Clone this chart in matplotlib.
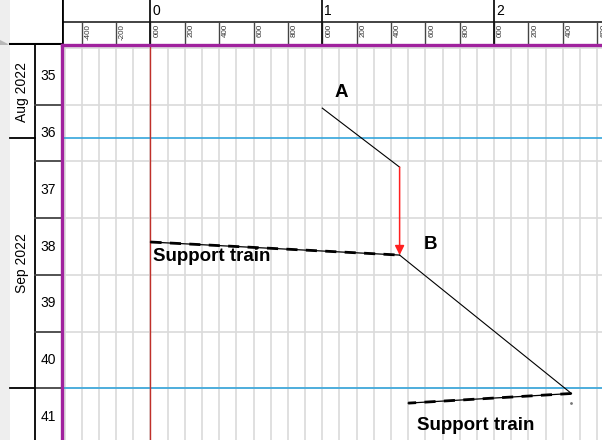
import matplotlib
matplotlib.use("Agg")
import matplotlib.pyplot as plt
from matplotlib.transforms import offset_copy
import numpy as np

plt.rcParams['font.family'] = ['Liberation Sans', 'DejaVu Sans']

# %%
# Dados do grafico (distancia x semana)
week_numbers = [35, 36, 37, 38, 39, 40, 41]
month_labels = ['Aug 2022', 'Sep 2022']
month_starts = [36.59, 41.0]           # inicio de Sep e Oct, em semanas

ruler_major = [0, 1000, 2000]
ruler_major_labels = ['0', '1', '2']
ruler_minor = list(range(-400, 2601, 200))

activity_a_x = [1000, 1450]
activity_a_y = [36.06, 37.10]
activity_b_x = [1450, 2450]
activity_b_y = [38.65, 41.09]
support_1_x = [0, 1450]
support_1_y = [38.42, 38.65]
support_2_x = [2450, 1500]
support_2_y = [41.09, 41.26]
link_x = 1450
link_y = [37.10, 38.65]

labels_text = ['A', 'B', 'Support train', 'Support train']
labels_x = [1074, 1588, 13, 1549]
labels_y = [35.87, 38.55, 38.76, 41.735]

# %%
W, H = 602, 440
left_px, top_px = 62, 45
x_min, x_max = -515, 2628
y_top, y_bottom = 34.947, 41.91

fig = plt.figure(figsize=(W / 100, H / 100), dpi=100)
fig.patch.set_facecolor('white')

# regua superior
ax_top = fig.add_axes([left_px / W, 1 - top_px / H, 1 - left_px / W, top_px / H])
ax_top.set_xlim(x_min, x_max)
ax_top.set_ylim(top_px, 0)
ax_top.axis('off')
ax_top.axhline(22, color='#222222', lw=1.2)
ax_top.axvline(x_min, color='black', lw=2)
for v in ruler_minor:
    ax_top.plot([v, v], [22, top_px], color='#444444', lw=1.0)
    lab = f"{v % 1000:03d}" if v >= 0 else str(v)
    tr = offset_copy(ax_top.transData, fig=fig, x=6.5, y=0, units='dots')
    ax_top.text(v, 24, lab, rotation=90, fontsize=5.8, ha='center', va='top',
                color='#333333', transform=tr, clip_on=True)
for v, lab in zip(ruler_major, ruler_major_labels):
    ax_top.plot([v, v], [0, top_px], color='#111111', lw=1.3)
    tr = offset_copy(ax_top.transData, fig=fig, x=2, y=0, units='dots')
    ax_top.text(v, 11, lab, fontsize=10, ha='left', va='center', transform=tr)

# canto superior esquerdo
ax_corner = fig.add_axes([0, 1 - top_px / H, left_px / W, top_px / H])
ax_corner.set_xlim(0, left_px)
ax_corner.set_ylim(top_px, 0)
ax_corner.axis('off')
ax_corner.axvspan(0, 10, color='#eeeeee', lw=0)
ax_corner.plot([10, left_px], [top_px - 0.5, top_px - 0.5], color='black', lw=1.5)
ax_corner.plot([3], [top_px - 0.5], marker='>', ms=6, color='#b8b8b8', clip_on=False)

# painel esquerdo (meses / semanas)
ax_left = fig.add_axes([0, 0, left_px / W, 1 - top_px / H])
ax_left.set_xlim(0, left_px)
ax_left.set_ylim(y_bottom, y_top)
ax_left.axis('off')
ax_left.axvspan(0, 10, color='#eeeeee', lw=0)
ax_left.axvline(35, color='black', lw=1.3)
for w in week_numbers:
    ax_left.plot([35, left_px], [w + 1, w + 1], color='#444444', lw=1.3)
    ax_left.text(48, w + 0.5, str(w), fontsize=10, ha='center', va='center')
for m in month_starts:
    ax_left.plot([10, 35], [m, m], color='black', lw=1.3)
month_bounds = [y_top] + month_starts
for i, lab in enumerate(month_labels):
    ax_left.text(22, (month_bounds[i] + month_bounds[i + 1]) / 2, lab,
                 rotation=90, fontsize=10, ha='center', va='center')

# grafico principal
ax = fig.add_axes([left_px / W, 0, 1 - left_px / W, 1 - top_px / H])
ax.set_xlim(x_min, x_max)
ax.set_ylim(y_bottom, y_top)
ax.set_xticks([])
ax.set_yticks([])
for s in ['right', 'bottom']:
    ax.spines[s].set_visible(False)
for s in ['left', 'top']:
    ax.spines[s].set_color('#a0229e')
    ax.spines[s].set_linewidth(2.4)
    ax.spines[s].set_zorder(10)

for v in np.arange(-500, 2601, 100):
    ax.axvline(v, color='#dadada', lw=1.2, zorder=1)
for w in week_numbers:
    ax.axhline(w, color='#dadada', lw=1.2, zorder=1)
for m in month_starts:
    ax.axhline(m, color='#35a6dc', lw=1.2, zorder=2)
ax.axvline(0, color='#c0302a', lw=1.0, zorder=2)

ax.plot(activity_a_x, activity_a_y, color='black', lw=0.8, zorder=3)
ax.plot(activity_b_x, activity_b_y, color='black', lw=0.8, zorder=3)
for sx, sy in [(support_1_x, support_1_y), (support_2_x, support_2_y)]:
    ax.plot(sx, sy, color='black', lw=0.9, zorder=3)
    ax.plot(sx, sy, color='black', lw=2.0, dashes=(4, 3), zorder=3)
ax.plot([support_2_x[0]], [support_2_y[1]], marker='.', ms=2, color='#777777')

ax.annotate('', xy=(link_x, link_y[1]), xytext=(link_x, link_y[0]),
            arrowprops=dict(arrowstyle='-|>', color='#ff2020', lw=1.1,
                            mutation_scale=14, shrinkA=0, shrinkB=0), zorder=4)

for t, x, y in zip(labels_text, labels_x, labels_y):
    ax.text(x, y, t, fontsize=13.5, fontweight='bold', ha='left', va='baseline', zorder=5)

fig.savefig('out.png', dpi=100)
